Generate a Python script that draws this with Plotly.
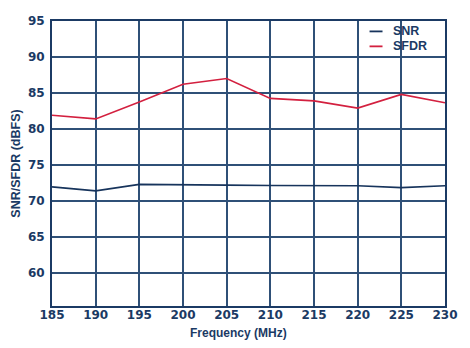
import plotly.graph_objects as go

freq = [185, 190, 195, 200, 205, 210, 215, 220, 225, 230]
snr = [71.95, 71.4, 72.3, 72.3, 72.2, 72.15, 72.1, 72.1, 71.85, 72.1]
sfdr = [81.9, 81.4, 83.75, 86.2, 87.0, 84.25, 83.9, 82.9, 84.8, 83.65]
x_ticks = [185, 190, 195, 200, 205, 210, 215, 220, 225, 230]
y_ticks = [60, 65, 70, 75, 80, 85, 90, 95]
series_names = ["SNR", "SFDR"]
series_colors = ["#17345c", "#d3203f"]

navy = "#1b3a64"
grid = "#2f5077"

fig = go.Figure()
for name, vals, col in zip(series_names, [snr, sfdr], series_colors):
    fig.add_trace(go.Scatter(x=freq, y=vals, mode="lines", name=name,
                             line=dict(color=col, width=1.6)))

# custom compact legend (short line samples like the reference)
leg_y = [0.9635, 0.911]
for name, col, yy in zip(series_names, series_colors, leg_y):
    fig.add_shape(type="line", xref="paper", yref="paper",
                  x0=0.808, x1=0.841, y0=yy, y1=yy,
                  line=dict(color=col, width=1.8))
    fig.add_annotation(xref="paper", yref="paper", x=0.862, y=yy,
                       xanchor="left", yanchor="middle", showarrow=False,
                       text=name,
                       font=dict(family="Liberation Sans", size=12.5, color=navy, weight="bold"))

fig.add_annotation(xref="paper", yref="paper", x=(239 - 52) / 395, y=-0.093,
                   xanchor="center", yanchor="middle", showarrow=False,
                   text="Frequency (MHz)",
                   font=dict(family="Liberation Sans", size=12, color=navy, weight="bold"))

fig.update_layout(
    width=470, height=348,
    margin=dict(l=52, r=23, t=21, b=42),
    paper_bgcolor="white", plot_bgcolor="white",
    showlegend=False,
)
fig.update_xaxes(range=[185, 230], tickvals=x_ticks, ticktext=[str(v) for v in x_ticks],
                 showgrid=True, gridcolor=grid, gridwidth=1.5,
                 showline=True, linecolor=navy, linewidth=2, mirror=True,
                 ticks="", ticklabelstandoff=-3,
                 tickfont=dict(family="DejaVu Sans", size=12, color=navy, weight="bold"),
                 zeroline=False)
fig.update_yaxes(range=[55.4, 95], tickvals=y_ticks, ticktext=[str(v) for v in y_ticks],
                 showgrid=True, gridcolor=grid, gridwidth=1.5,
                 showline=True, linecolor=navy, linewidth=2, mirror=True,
                 ticks="", ticklabelstandoff=3,
                 tickfont=dict(family="DejaVu Sans", size=12, color=navy, weight="bold"),
                 title=dict(text="SNR/SFDR (dBFS)", standoff=5,
                            font=dict(family="Liberation Sans", size=12.5, color=navy, weight="bold")),
                 zeroline=False)

fig.write_html("out.html")
